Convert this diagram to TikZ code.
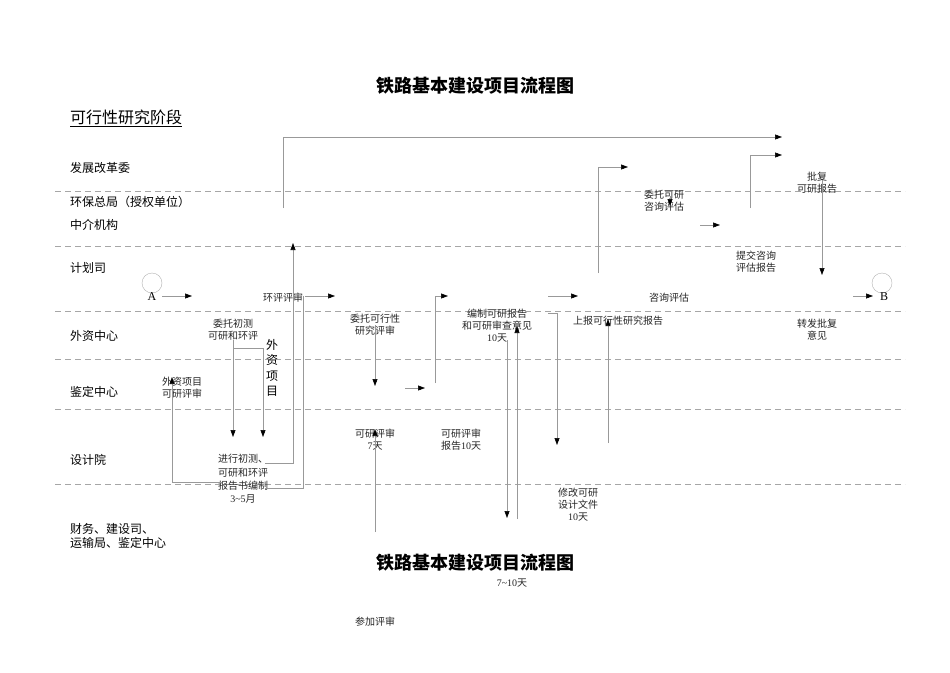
\documentclass[tikz,border=0pt]{standalone}
\usepackage{fontspec}
\setmainfont{Liberation Serif}
\newfontfamily\cjk{Noto Sans CJK SC}
\usetikzlibrary{arrows.meta}
\begin{document}
\begin{tikzpicture}[x=1pt,y=-1pt,
  lane/.style={draw=gray!70,dashed,dash pattern=on 6pt off 4pt},
  con/.style={draw=gray!80,line width=0.6pt},
  arr/.style={con,-{Triangle[length=7pt,width=5pt,fill=black,color=black]}},
  sm/.style={font=\cjk\fontsize{10}{12}\selectfont,align=center,inner sep=0pt,text=black!85},
  lab/.style={font=\cjk\fontsize{12}{14}\selectfont,anchor=west,inner sep=0pt,align=left},
  ttl/.style={font=\cjk\bfseries\fontsize{18}{20}\selectfont,inner sep=0pt}]
\useasboundingbox (0,0) rectangle (950,672);
\fill[white] (0,0) rectangle (950,672);
\node[ttl] (t1) at (475,86) {铁路基本建设项目流程图};
\node[ttl] (t2) at (475,563) {铁路基本建设项目流程图};
\node[font=\cjk\fontsize{16}{18}\selectfont,anchor=west,inner sep=0pt] (stage) at (70,118) {\underline{可行性研究阶段}};
\foreach \y in {191,246,311,359,409,484} \draw[lane] (55,\y) -- (905,\y);
\node[lab] (l1) at (70,168) {发展改革委};
\node[lab] (l2) at (70,202) {环保总局（授权单位）};
\node[lab] (l3) at (70,225) {中介机构};
\node[lab] (l4) at (70,268) {计划司};
\node[lab] (l5) at (70,336) {外资中心};
\node[lab] (l6) at (70,392) {鉴定中心};
\node[lab] (l7) at (70,460) {设计院};
\node[lab] (l8) at (70,536) {财务、建设司、\\运输局、鉴定中心};
% circles
\node[draw=gray!60,circle,minimum size=20pt,inner sep=0pt] (ca) at (152,283) {};
\node[font=\fontsize{12}{12}\selectfont,inner sep=0pt] (A) at (152,297) {A};
\node[draw=gray!60,circle,minimum size=20pt,inner sep=0pt] (cb) at (882,283) {};
\node[font=\fontsize{12}{12}\selectfont,inner sep=0pt] (B) at (884,297) {B};
% labels
\node[sm] (hp) at (283,298) {环评评审};
\node[sm] (wt1) at (233,330) {委托初测\\可研和环评};
\node[font=\cjk\fontsize{12}{15.5}\selectfont,align=center,inner sep=0pt] (wz) at (272,368) {外\\资\\项\\目};
\node[sm] (wzps) at (182,388) {外资项目\\可研评审};
\node[sm,font=\cjk\fontsize{10}{13.3}\selectfont] (jx) at (243,479) {进行初测、\\可研和环评\\报告书编制\\{\rmfamily 3\textasciitilde5}月};
\node[sm] (wt2) at (375,325) {委托可行性\\研究评审};
\node[sm] (kyps) at (375,440) {可研评审\\{\rmfamily 7}天};
\node[sm] (kybg) at (461,440) {可研评审\\报告{\rmfamily 10}天};
\node[sm] (bz) at (497,326) {编制可研报告\\和可研审查意见\\{\rmfamily 10}天};
\node[sm] (sb) at (618,321) {上报可行性研究报告};
\node[sm] (xg) at (578,505) {修改可研\\设计文件\\{\rmfamily 10}天};
\node[sm] (zx) at (669,298) {咨询评估};
\node[sm] (wt3) at (664,201) {委托可研\\咨询评估};
\node[sm] (tj) at (756,262) {提交咨询\\评估报告};
\node[sm] (pf) at (817,183) {批复\\可研报告};
\node[sm] (zf) at (817,330) {转发批复\\意见};
\node[sm] (d7) at (512,583) {{\rmfamily 7\textasciitilde10}天};
\node[sm] (cj) at (375,622) {参加评审};
% coordinates
\coordinate (a1) at (162,296); \coordinate (a2) at (192,296);
\coordinate (b1) at (305,296); \coordinate (b2) at (335,296);
\coordinate (c1) at (283,208); \coordinate (c2) at (283,137); \coordinate (c3) at (782,137);
\coordinate (d1) at (265,463); \coordinate (d2) at (293,463); \coordinate (d3) at (293,243);
\coordinate (e1) at (265,488); \coordinate (e2) at (303,488); \coordinate (e3) at (303,296);
\coordinate (f1) at (233,340); \coordinate (f2) at (233,437);
\coordinate (g1) at (233,348); \coordinate (g2) at (263,348); \coordinate (g3) at (263,437);
\coordinate (h1) at (222,482); \coordinate (h2) at (172,482); \coordinate (h3) at (172,377);
\coordinate (i1) at (375,325); \coordinate (i2) at (375,386);
\coordinate (j1) at (405,388); \coordinate (j2) at (425,388);
\coordinate (k1) at (435,383); \coordinate (k2) at (435,296); \coordinate (k3) at (448,296);
\coordinate (m1) at (375,532); \coordinate (m2) at (375,429);
\coordinate (n1) at (507,340); \coordinate (n2) at (507,518);
\coordinate (o1) at (517,519); \coordinate (o2) at (517,326);
\coordinate (p1) at (548,313); \coordinate (p2) at (557,313); \coordinate (p3) at (557,445);
\coordinate (q1) at (548,296); \coordinate (q2) at (578,296);
\coordinate (r1) at (608,443); \coordinate (r2) at (608,319);
\coordinate (s1) at (598,273); \coordinate (s2) at (598,167); \coordinate (s3) at (628,167);
\coordinate (u1) at (670,196); \coordinate (u2) at (670,206);
\coordinate (v1) at (700,225); \coordinate (v2) at (720,225);
\coordinate (w1) at (750,208); \coordinate (w2) at (750,155); \coordinate (w3) at (782,155);
\coordinate (x1) at (822,180); \coordinate (x2) at (822,275);
\coordinate (y1) at (853,296); \coordinate (y2) at (873,296);
% connectors
\draw[arr] (a1) -- (a2);
\draw[arr] (b1) -- (b2);
\draw[arr] (c1) -- (c2) -- (c3);
\draw[arr] (d1) -- (d2) -- (d3);
\draw[con] (e1) -- (e2) -- (e3);
\draw[arr] (f1) -- (f2);
\draw[arr] (g1) -- (g2) -- (g3);
\draw[arr] (h1) -- (h2) -- (h3);
\draw[arr] (i1) -- (i2);
\draw[arr] (j1) -- (j2);
\draw[arr] (k1) -- (k2) -- (k3);
\draw[arr] (m1) -- (m2);
\draw[arr] (n1) -- (n2);
\draw[arr] (o1) -- (o2);
\draw[arr] (p1) -- (p2) -- (p3);
\draw[arr] (q1) -- (q2);
\draw[arr] (r1) -- (r2);
\draw[arr] (s1) -- (s2) -- (s3);
\draw[arr] (u1) -- (u2);
\draw[arr] (v1) -- (v2);
\draw[arr] (w1) -- (w2) -- (w3);
\draw[arr] (x1) -- (x2);
\draw[arr] (y1) -- (y2);
\end{tikzpicture}
\end{document}
